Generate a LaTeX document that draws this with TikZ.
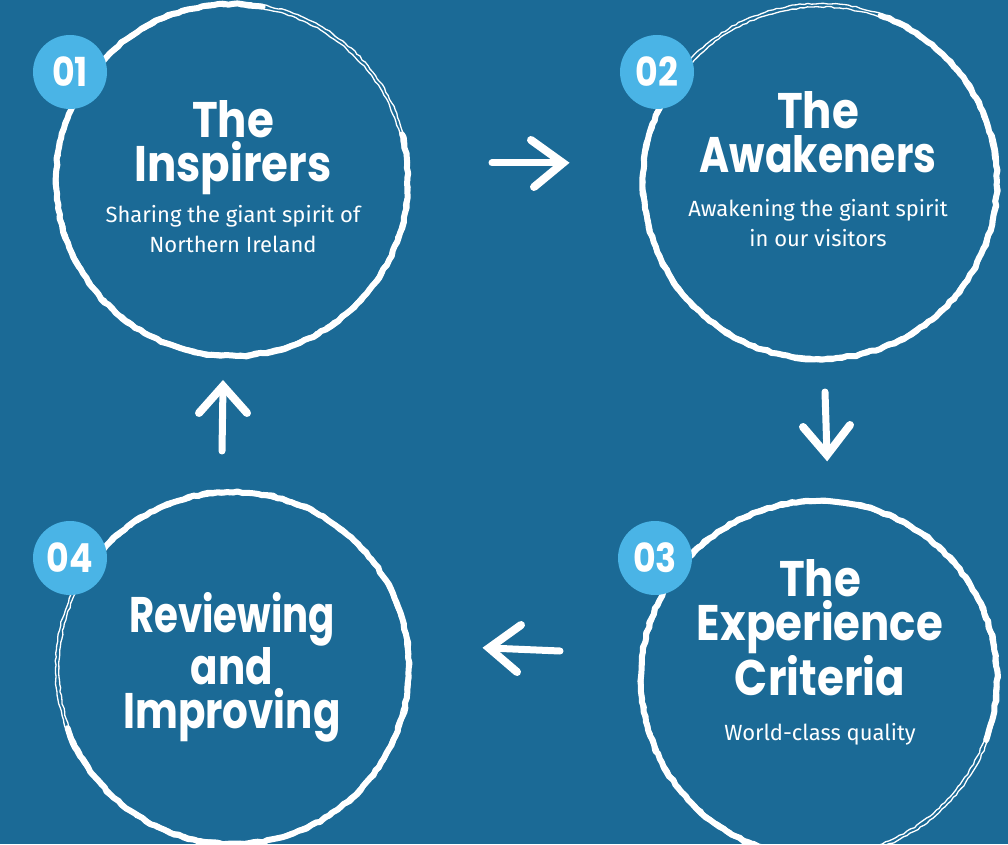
\documentclass[tikz,border=0pt]{standalone}
\usepackage{fontspec}
\setmainfont{Fira Sans}
\newfontfamily\titlefont[FakeStretch=0.87]{Poppins}
\usetikzlibrary{decorations.pathmorphing}
\definecolor{bg}{HTML}{1B6A96}
\definecolor{badgeblue}{HTML}{4AB4E6}
\begin{document}
\begin{tikzpicture}[x=1pt,y=1pt,
  ringthin/.style={draw=white, line width=1.3pt, line join=round, decorate,
    decoration={random steps, segment length=4pt, amplitude=0.7pt}},
  ringthick/.style={draw=white, line width=6pt, line join=round, line cap=round, decorate,
    decoration={random steps, segment length=5pt, amplitude=0.9pt}},
  badge/.style={circle, fill=badgeblue, minimum size=74pt, inner sep=0pt, text=white,
    font=\titlefont\bfseries\fontsize{40}{40}\selectfont},
  ttl/.style={anchor=base, text=white, inner sep=0pt, align=center,
    font=\titlefont\bfseries\fontsize{50}{44}\selectfont},
  sub/.style={anchor=base, text=white, inner sep=0pt, align=center,
    font=\fontsize{22}{30}\selectfont},
  shaft/.style={draw=white, line width=7pt, line cap=round},
  head/.style={draw=white, line width=8pt, line cap=round, line join=miter},
]
\pgfmathsetseed{7}
\fill[bg] (0,0) rectangle (1008,844);
\useasboundingbox (0,0) rectangle (1008,844);

% circle centres
\coordinate (c1) at (232,664);
\coordinate (c2) at (820,662);
\coordinate (c3) at (819,165);
\coordinate (c4) at (233,176);

% rough rings
\foreach \c/\r/\a/\b in {c1/176/80/375, c2/177/140/430, c3/178/-20/280, c4/176/200/500}{
  \draw[ringthin] (\c) circle[radius=\r+1.5];
  \draw[ringthin] (\c) circle[radius=\r-2];
  \draw[ringthick] ([shift={(\a:\r)}]\c) arc[start angle=\a, end angle=\b, radius=\r];
}

% badges
\node[badge] (b1) at (70,772) {01};
\node[badge] (b2) at (657,772) {02};
\node[badge] (b3) at (655,286) {03};
\node[badge] (b4) at (70,286) {04};

% circle 1 texts (base anchor = baseline of last line)
\node[ttl] (t1) at (233,662) {The\\Inspirers};
\node[sub] (s1) at (233,591) {Sharing the giant spirit of\\Northern Ireland};

% circle 2 texts
\node[ttl] (t2) at (818,671) {The\\\scalebox{0.94}[1]{Awakeners}};
\node[sub] (s2) at (818,597) {Awakening the giant spirit\\in our visitors};

% circle 3 texts
\node[ttl] (t3) at (820,149) {The\\Experience\\Criteria};
\node[sub] (s3) at (820,104) {World-class quality};

% circle 4 texts
\node[ttl] (t4) at (232,116) {\scalebox{0.89}[1]{Reviewing}\\\scalebox{0.93}[1]{and}\\\scalebox{0.93}[1]{Improving}};

% arrows
% right
\coordinate (ra0) at (492,681); \coordinate (ra1) at (563,681);
\coordinate (ra2) at (531,704); \coordinate (ra3) at (534,657);
\draw[shaft] (ra0) -- (ra1);
\draw[head] (ra2) -- (ra1) -- (ra3);
% down
\coordinate (da0) at (825,452); \coordinate (da1) at (827,389);
\coordinate (da2) at (803,417); \coordinate (da3) at (850,419);
\draw[shaft] (da0) -- (da1);
\draw[head] (da2) -- (da1) -- (da3);
% left
\coordinate (la0) at (560,193); \coordinate (la1) at (489,196);
\coordinate (la2) at (521,219); \coordinate (la3) at (517,172);
\draw[shaft] (la0) -- (la1);
\draw[head] (la2) -- (la1) -- (la3);
% up
\coordinate (ua0) at (222,393); \coordinate (ua1) at (223,458);
\coordinate (ua2) at (199,431); \coordinate (ua3) at (247,431);
\draw[shaft] (ua0) -- (ua1);
\draw[head] (ua2) -- (ua1) -- (ua3);
\end{tikzpicture}
\end{document}
